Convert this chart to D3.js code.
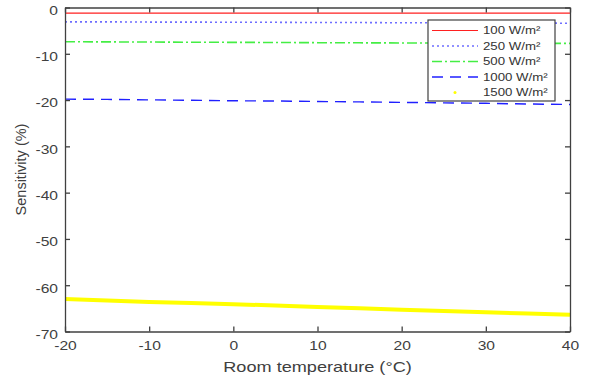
<!DOCTYPE html>
<html>
<head>
<meta charset="utf-8">
<script src="https://cdn.jsdelivr.net/npm/d3@7"></script>
<style>
  body { margin: 0; background: #fff; }
  svg { font-family: "Liberation Sans", Arial, sans-serif; }
</style>
</head>
<body>
<div id="chart"></div>
<script>
// ==== Data ====
const temps = [-20, -15, -10, -5, 0, 5, 10, 15, 20, 25, 30, 35, 40];
const s100  = [-1.2, -1.2, -1.2, -1.2, -1.2, -1.2, -1.2, -1.2, -1.2, -1.2, -1.2, -1.2, -1.2];
const s250  = [-3.1, -3.1, -3.15, -3.15, -3.2, -3.2, -3.25, -3.25, -3.3, -3.3, -3.35, -3.35, -3.4];
const s500  = [-7.4, -7.43, -7.46, -7.5, -7.53, -7.56, -7.6, -7.63, -7.66, -7.68, -7.7, -7.73, -7.75];
const s1000 = [-19.8, -19.85, -19.95, -20.05, -20.15, -20.2, -20.3, -20.4, -20.5, -20.6, -20.7, -20.85, -20.95];
const s1500 = [-63.0, -63.3, -63.6, -63.85, -64.1, -64.4, -64.7, -65.0, -65.3, -65.55, -65.85, -66.1, -66.4];
const xTicks = [-20, -10, 0, 10, 20, 30, 40];
const yTicks = [0, -10, -20, -30, -40, -50, -60, -70];
const labels = ["100 W/m\u00b2", "250 W/m\u00b2", "500 W/m\u00b2", "1000 W/m\u00b2", "1500 W/m\u00b2"];

const series = [
  { name: labels[0], values: s100,  color: "#ff2020", width: 1.2, dash: null },
  { name: labels[1], values: s250,  color: "#6e6eff", width: 1.6, dash: "2,3" },
  { name: labels[2], values: s500,  color: "#44ee44", width: 1.6, dash: "10,3,2,3" },
  { name: labels[3], values: s1000, color: "#2020ff", width: 1.4, dash: "11,7" },
  { name: labels[4], values: s1500, color: "#ffff00", width: 4,   dash: null }
];

// ==== Setup ====
const margin = { top: 7.5, right: 20, bottom: 46.5, left: 65 };
const width = 590 - margin.left - margin.right;
const height = 378 - margin.top - margin.bottom;
const axisColor = "#404040";
const stretch = "scale(1.25,1)";   // text in the picture is drawn wide

const root = d3.select("#chart")
  .append("svg")
  .attr("width", 590)
  .attr("height", 378);

const svg = root.append("g")
  .attr("transform", `translate(${margin.left},${margin.top})`);

// ==== Scales ====
const xScale = d3.scaleLinear().domain([-20, 40]).range([0, width]);
const yScale = d3.scaleLinear().domain([-70, 0]).range([height, 0]);

// ==== Lines ====
const line = d3.line()
  .x((d, i) => xScale(temps[i]))
  .y(d => yScale(d));

series.forEach(s => {
  svg.append("path")
    .datum(s.values)
    .attr("fill", "none")
    .attr("stroke", s.color)
    .attr("stroke-width", s.width)
    .attr("stroke-dasharray", s.dash)
    .attr("d", line);
});

// ==== Axes (inward ticks, mirrored) ====
const fmt = d => String(d);
const xAxis = d3.axisBottom(xScale).tickValues(xTicks).tickSizeInner(-5).tickSizeOuter(0).tickFormat(fmt);
const yAxis = d3.axisLeft(yScale).tickValues(yTicks).tickSizeInner(-5).tickSizeOuter(0).tickFormat(fmt);
const xTop = d3.axisTop(xScale).tickValues(xTicks).tickSizeInner(-5).tickSizeOuter(0).tickFormat("");
const yRight = d3.axisRight(yScale).tickValues(yTicks).tickSizeInner(-5).tickSizeOuter(0).tickFormat("");

svg.append("g").attr("class", "axis x-axis")
  .attr("transform", `translate(0,${height})`).call(xAxis);
svg.append("g").attr("class", "axis y-axis").call(yAxis);
svg.append("g").attr("class", "axis").call(xTop);
svg.append("g").attr("class", "axis")
  .attr("transform", `translate(${width},0)`).call(yRight);

svg.selectAll(".axis path, .axis line")
  .attr("stroke", axisColor)
  .attr("stroke-width", 1.3);
svg.selectAll(".axis text")
  .attr("fill", axisColor)
  .attr("font-size", 12.5)
  .attr("font-family", "Liberation Sans, Arial, sans-serif");
svg.selectAll(".x-axis text")
  .attr("y", 0)
  .attr("dy", "0.71em")
  .attr("transform", `translate(0,10) ${stretch}`);
svg.selectAll(".y-axis text")
  .attr("x", 0)
  .attr("dy", "0.35em")
  .attr("transform", `translate(-7,2.5) ${stretch}`);

// ==== Axis titles ====
svg.append("text")
  .attr("transform", `translate(${width / 2},${height + 40}) ${stretch}`)
  .attr("text-anchor", "middle")
  .attr("fill", axisColor)
  .attr("font-size", 14.5)
  .text("Room temperature (\u00b0C)");

svg.append("text")
  .attr("transform", `translate(${-39},${height / 2}) rotate(-90)`)
  .attr("text-anchor", "middle")
  .attr("fill", axisColor)
  .attr("font-size", 14.5)
  .text("Sensitivity (%)");

// ==== Legend ====
const legend = root.append("g").attr("transform", "translate(428,20)");
legend.append("rect")
  .attr("width", 127)
  .attr("height", 81)
  .attr("fill", "#fff")
  .attr("stroke", axisColor)
  .attr("stroke-width", 1.2);

series.forEach((s, i) => {
  const y = 10.5 + i * 15.5;
  if (i < 4) {
    legend.append("line")
      .attr("x1", 4).attr("x2", 50)
      .attr("y1", y).attr("y2", y)
      .attr("stroke", s.color)
      .attr("stroke-width", s.width)
      .attr("stroke-dasharray", s.dash);
  } else {
    legend.append("circle")
      .attr("cx", 27).attr("cy", y)
      .attr("r", 1.5)
      .attr("fill", s.color);
  }
  legend.append("text")
    .attr("transform", `translate(55,${y}) ${stretch}`)
    .attr("dy", "0.35em")
    .attr("fill", "#333")
    .attr("font-size", 10.6)
    .text(s.name);
});
</script>
</body>
</html>
